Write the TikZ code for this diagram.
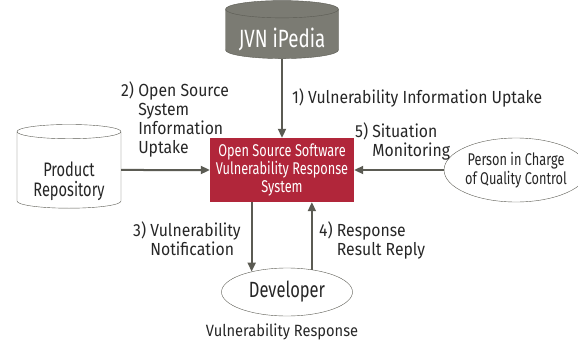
\documentclass[tikz,border=0pt]{standalone}
\usepackage{fontspec}
\setmainfont{Fira Sans}[FakeStretch=0.9]
\newfontfamily\narrowfont{Fira Sans}[FakeStretch=0.75]
\usetikzlibrary{shapes.geometric,positioning,arrows.meta}
\definecolor{jvngray}{HTML}{7B7B73}
\definecolor{linegray}{HTML}{5B5B53}
\definecolor{sysred}{HTML}{B1263A}

\begin{document}
\begin{tikzpicture}[x=1pt,y=-1pt,
    dbase/.style={cylinder,shape border rotate=90,aspect=0.2,draw=linegray,thin,inner sep=0pt,align=center},
    actor/.style={ellipse,draw=linegray,thin,inner sep=0pt,align=center},
    flow/.style={draw=linegray,line width=2pt,-{Triangle[width=8pt,length=9pt]}},
    lbl/.style={text=black!85,font=\fontsize{17.5}{19}\selectfont,inner sep=0pt,align=left}]
  \useasboundingbox (0,0) rectangle (578,343);
  \node[dbase,fill=jvngray,text=white,minimum width=113,minimum height=58,font=\narrowfont\fontsize{25}{26}\selectfont] (jvn) at (282,34) {\raisebox{-5pt}[\height][\depth]{JVN iPedia}};
  \node[fill=sysred,text=white,minimum width=144,minimum height=64,inner sep=0pt,align=center,font=\narrowfont\fontsize{17}{18}\selectfont] (sys) at (282,170) {Open Source Software\\Vulnerability Response\\System};
  \node[dbase,fill=white,text=black!85,minimum width=104,minimum height=80,font=\narrowfont\fontsize{19.5}{20}\selectfont] (repo) at (69,170) {\mbox{}\\[18pt]Product\\Repository};
  \node[actor,text=black!85,minimum width=121,minimum height=64,font=\narrowfont\fontsize{17}{19}\selectfont] (qc) at (516,170) {Person in Charge\\of Quality Control};
  \node[actor,text=black!85,minimum width=131,minimum height=48,font=\narrowfont\fontsize{22}{22}\selectfont] (dev) at (287,292) {Developer};
  \node[lbl,font=\fontsize{16.3}{19}\selectfont] (resp) at (282,332) {Vulnerability Response};
  % arrows
  \draw[flow] (jvn.south) -- node[lbl,right=9pt] (l1) {1) Vulnerability Information Uptake} (sys.north);
  \draw[flow] (repo.east) -- (sys.west);
  \draw[flow] (qc.west) -- (sys.east);
  \draw[flow] (dev.150 |- sys.south) -- (dev.150);
  \draw[flow] (dev.42) -- (dev.42 |- sys.south);
  % step labels
  \node[lbl,anchor=south west] (l2) at (121,157) {2) Open Source\\\hphantom{2) }System\\\hphantom{2) }Information\\\hphantom{2) }Uptake};
  \node[lbl,anchor=south west] (l5) at (355,160) {5) Situation\\\hphantom{5) }Monitoring};
  \node[lbl,anchor=north west] (l3) at (133,222) {3) Vulnerability\\\hphantom{3) }Notification};
  \node[lbl,anchor=north west] (l4) at (319,222) {4) Response\\\hphantom{4) }Result Reply};
\end{tikzpicture}
\end{document}
